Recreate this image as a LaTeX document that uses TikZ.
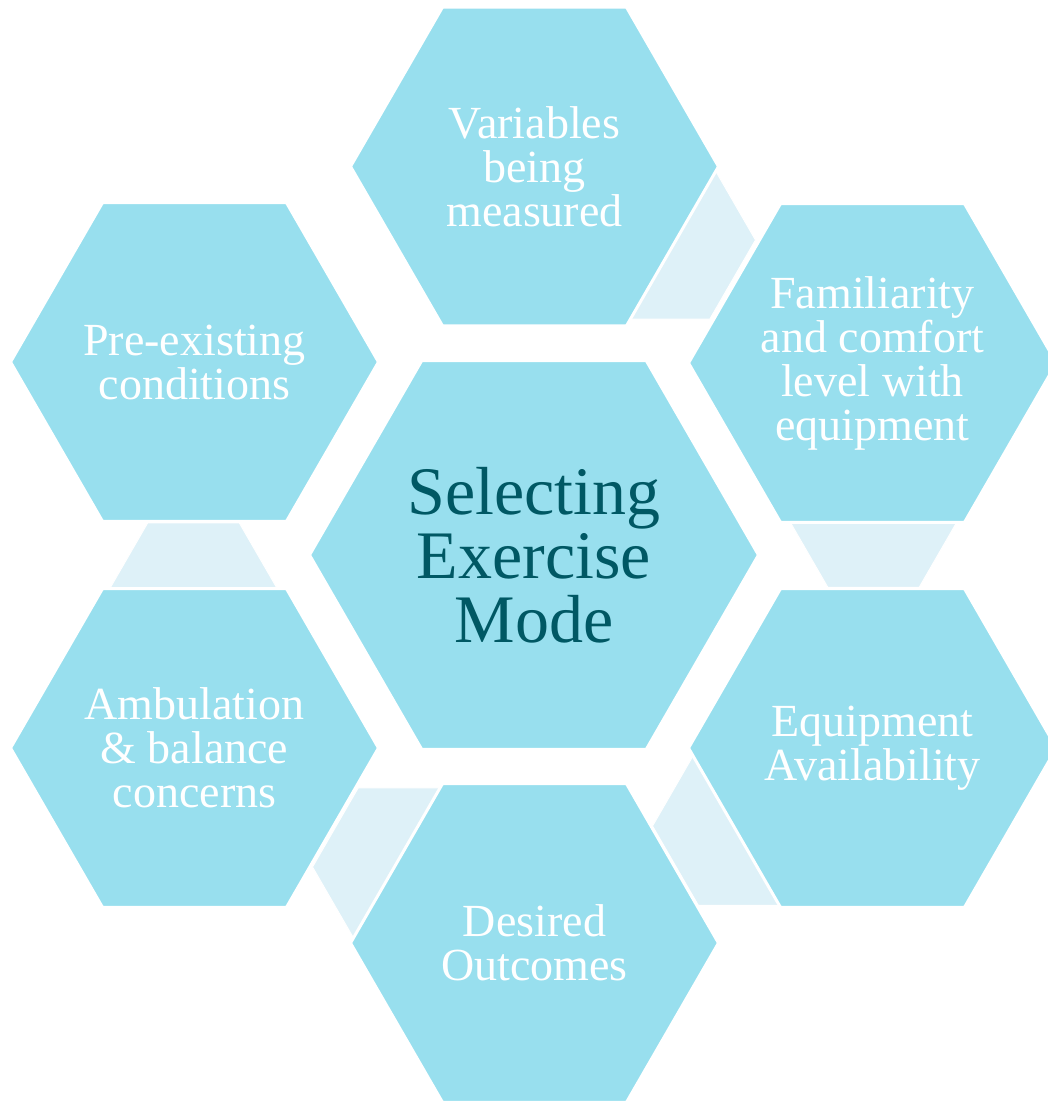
\documentclass[tikz,border=0pt]{standalone}
\usepackage{fontspec}
\setmainfont{Liberation Serif}
\usetikzlibrary{shapes.geometric}
\definecolor{hexfill}{RGB}{152,223,238}
\definecolor{linkfill}{RGB}{222,241,248}
\definecolor{titleteal}{RGB}{0,88,100}
\begin{document}
\begin{tikzpicture}[x=1pt,y=-1pt,
  hexbox/.style={regular polygon, regular polygon sides=6, inner sep=0pt, outer sep=0pt,
                 fill=hexfill, draw=white, line width=3pt},
  outerhex/.style={hexbox, minimum size=368pt},
  corehex/.style={hexbox, minimum size=449pt},
  linkhex/.style={regular polygon, regular polygon sides=6, inner sep=0pt, outer sep=0pt,
                  minimum size=183pt, fill=linkfill, draw=white, line width=1pt},
  itemtext/.style={text=white, align=center, font=\fontsize{46}{44}\selectfont},
  titletext/.style={text=titleteal, align=center, font=\fontsize{68}{64}\selectfont}]

\clip (0,0) rectangle (1048,1101);

% light link hexagons, partly hidden behind the main ones
\node[linkhex] (lA) at (664,240) {};
\node[linkhex] (lB) at (873.5,508) {};
\node[linkhex] (lC) at (744,826) {};
\node[linkhex] (lD) at (404,867) {};
\node[linkhex] (lE) at (193.5,602) {};

% outer ring of hexagons
\node[outerhex] (hT)  at (534.5,166.5) {};
\node[outerhex] (hUR) at (872.5,363) {};
\node[outerhex] (hLR) at (872.5,748) {};
\node[outerhex] (hB)  at (534.5,943) {};
\node[outerhex] (hLL) at (194.5,748) {};
\node[outerhex] (hUL) at (194.5,362) {};

% central hexagon
\node[corehex] (hC) at (534,555) {};

% labels
\node[titletext] (tC)  at (hC)  {Selecting\\Exercise\\Mode};
\node[itemtext]  (tT)  at (hT)  {Variables\\being\\measured};
\node[itemtext]  (tUR) at (hUR) {Familiarity\\and comfort\\level with\\equipment};
\node[itemtext]  (tLR) at (hLR) {Equipment\\Availability};
\node[itemtext]  (tB)  at (hB)  {Desired\\Outcomes};
\node[itemtext]  (tLL) at (hLL) {Ambulation\\\& balance\\concerns};
\node[itemtext]  (tUL) at (hUL) {Pre-existing\\conditions};
\end{tikzpicture}
\end{document}
